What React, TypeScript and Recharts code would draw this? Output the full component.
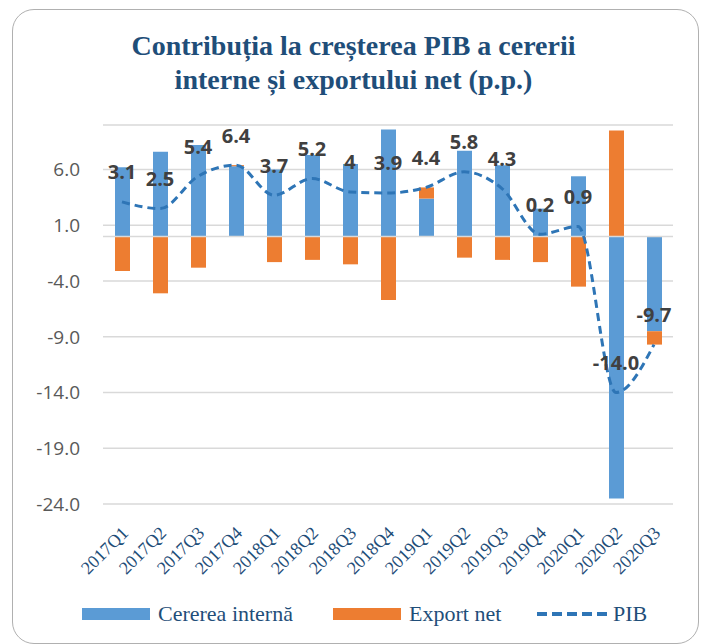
import React from 'react';
import { ComposedChart, Bar, Line, XAxis, YAxis, CartesianGrid, ReferenceLine, LabelList } from 'recharts';

const quarters = ['2017Q1', '2017Q2', '2017Q3', '2017Q4', '2018Q1', '2018Q2', '2018Q3', '2018Q4', '2019Q1', '2019Q2', '2019Q3', '2019Q4', '2020Q1', '2020Q2', '2020Q3'];
const cerereaInterna = [6.2, 7.6, 8.2, 6.3, 6.0, 7.3, 6.5, 9.6, 3.4, 7.7, 6.4, 2.5, 5.4, -23.5, -8.5];
const exportNet = [-3.1, -5.1, -2.8, 0.1, -2.3, -2.1, -2.5, -5.7, 1.0, -1.9, -2.1, -2.3, -4.5, 9.5, -1.2];
const pib = [3.1, 2.5, 5.4, 6.4, 3.7, 5.2, 4.0, 3.9, 4.4, 5.8, 4.3, 0.2, 0.9, -14.0, -9.7];
const pibLabels = ['3.1', '2.5', '5.4', '6.4', '3.7', '5.2', '4', '3.9', '4.4', '5.8', '4.3', '0.2', '0.9', '-14.0', '-9.7'];
const yTicks = [-24, -19, -14, -9, -4, 1, 6];

const data = quarters.map((q, i) => ({ q, interna: cerereaInterna[i], export: exportNet[i], pib: pib[i] }));

const BLUE = '#5B9BD5';
const ORANGE = '#ED7D31';
const LINE = '#2E75B6';
const NAVY = '#1F4E79';

const XTick = (props: any) => {
  const { x, y, payload } = props;
  const ax = x + 3;
  const ay = y + 10;
  return (
    <text x={ax} y={ay} transform={`rotate(-45 ${ax} ${ay})`} textAnchor="end" dominantBaseline="central"
      fill={NAVY} fontSize={18} fontFamily="'Liberation Serif', serif">
      {payload.value}
    </text>
  );
};

const PibLabel = (props: any) => {
  const { x, y, index } = props;
  return (
    <text x={x} y={y - 30} textAnchor="middle" dominantBaseline="central"
      fill="#404040" fontSize={20} fontWeight="bold" fontFamily="'Open Sans', sans-serif">
      {pibLabels[index]}
    </text>
  );
};

const legendText: React.CSSProperties = { position: 'absolute', top: 601, fontSize: 22, color: NAVY, fontFamily: "'Liberation Serif', serif", lineHeight: '26px' };

export default function App() {
  return (
    <div style={{ position: 'absolute', left: 0, top: 0, width: 707, height: 644, background: '#fff', overflow: 'hidden' }}>
      <div style={{ position: 'absolute', left: 12, top: 9, width: 685, height: 633, border: '1.5px solid #B0B0B0', borderRadius: 22 }} />
      <div style={{ position: 'absolute', left: 0, top: 29, width: 707, textAlign: 'center', fontFamily: "'Liberation Serif', serif", fontWeight: 'bold', fontSize: 28, lineHeight: '34px', color: NAVY }}>
        Contribuția la creșterea PIB a cererii<br />interne și exportului net (p.p.)
      </div>
      <div style={{ position: 'absolute', left: 0, top: 0 }}>
        <ComposedChart width={707} height={644} data={data} stackOffset="sign" margin={{ top: 125, right: 34, bottom: 0, left: 0 }}>
          <CartesianGrid vertical={false} stroke="#D9D9D9" strokeWidth={1.5} />
          <XAxis dataKey="q" interval={0} axisLine={false} tickLine={false} height={140} tickMargin={10} tick={<XTick />} />
          <YAxis domain={[-24, 10]} ticks={yTicks} width={103} axisLine={false} tickLine={false} tickMargin={17}
            tickFormatter={(v: number) => v.toFixed(1)}
            tick={{ fill: '#595959', fontSize: 19, fontFamily: "'Open Sans', sans-serif" }} />
          <ReferenceLine y={0} stroke="#D9D9D9" strokeWidth={1.5} />
          <Bar dataKey="interna" stackId="a" fill={BLUE} barSize={15} isAnimationActive={false} />
          <Bar dataKey="export" stackId="a" fill={ORANGE} barSize={15} isAnimationActive={false} />
          <Line dataKey="pib" type="monotone" stroke={LINE} strokeWidth={3} strokeDasharray="8 5" dot={false} isAnimationActive={false}>
            <LabelList dataKey="pib" content={<PibLabel />} />
          </Line>
        </ComposedChart>
      </div>
      <div style={{ position: 'absolute', left: 82, top: 608, width: 68, height: 12, background: BLUE }} />
      <div style={{ ...legendText, left: 158 }}>Cererea internă</div>
      <div style={{ position: 'absolute', left: 333, top: 608, width: 68, height: 12, background: ORANGE }} />
      <div style={{ ...legendText, left: 409 }}>Export net</div>
      <svg style={{ position: 'absolute', left: 536, top: 608 }} width={72} height={12}>
        <line x1={1} y1={6} x2={71} y2={6} stroke={LINE} strokeWidth={4} strokeDasharray="10 5" />
      </svg>
      <div style={{ ...legendText, left: 613 }}>PIB</div>
    </div>
  );
}
